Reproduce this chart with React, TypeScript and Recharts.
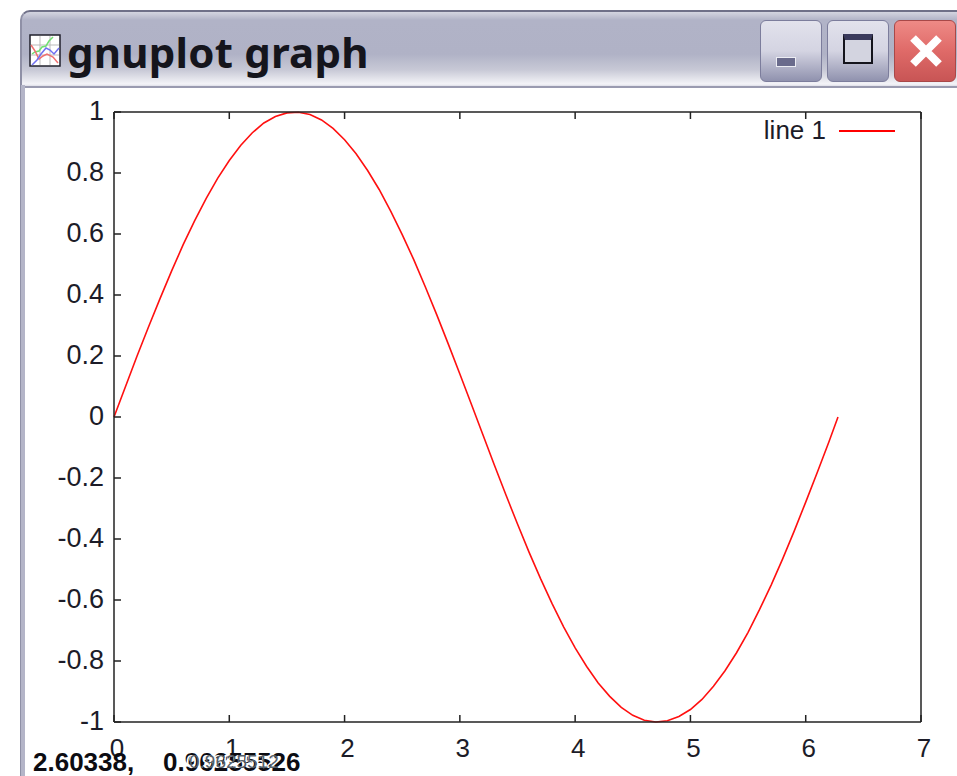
import React from 'react';
import { LineChart, Line, XAxis, YAxis, Legend } from 'recharts';

const xValues = [
  0, 0.1, 0.2, 0.3, 0.4, 0.5, 0.6, 0.7, 0.8, 0.9, 1, 1.1, 1.2, 1.3, 1.4, 1.5, 1.6, 1.7, 1.8, 1.9, 2, 2.1,
  2.2, 2.3, 2.4, 2.5, 2.6, 2.7, 2.8, 2.9, 3, 3.1, 3.2, 3.3, 3.4, 3.5, 3.6, 3.7, 3.8, 3.9, 4, 4.1, 4.2, 4.3,
  4.4, 4.5, 4.6, 4.7, 4.8, 4.9, 5, 5.1, 5.2, 5.3, 5.4, 5.5, 5.6, 5.7, 5.8, 5.9, 6, 6.1, 6.2, 6.28,
];
const yValues = [
  0, 0.1, 0.2, 0.296, 0.389, 0.479, 0.565, 0.644, 0.717, 0.783, 0.841, 0.891, 0.932, 0.964, 0.985, 0.997,
  0.999, 0.992, 0.974, 0.946, 0.909, 0.863, 0.808, 0.746, 0.675, 0.598, 0.516, 0.427, 0.335, 0.239, 0.141,
  0.042, -0.058, -0.158, -0.256, -0.351, -0.443, -0.53, -0.612, -0.688, -0.757, -0.818, -0.872, -0.916,
  -0.952, -0.978, -0.994, -1, -0.996, -0.982, -0.959, -0.926, -0.883, -0.832, -0.773, -0.706, -0.631,
  -0.551, -0.465, -0.374, -0.279, -0.182, -0.083, 0,
];
const xTicks = [0, 1, 2, 3, 4, 5, 6, 7];
const yTicks = [-1, -0.8, -0.6, -0.4, -0.2, 0, 0.2, 0.4, 0.6, 0.8, 1];
const seriesName = 'line 1';
const windowTitle = 'gnuplot graph';
const statusText = '2.60338,    0.96255526';
const statusGhosts = ['0.9652552', '0.9625512'];

const data = xValues.map((x, i) => ({ x, y: yValues[i] }));

const AXIS_FONT = '"Liberation Sans", Arial, sans-serif';
const TEXT_COLOR = '#1c1c28';

function BottomTick({ x, y, payload }: any) {
  return (
    <g>
      <line x1={x} x2={x} y1={y} y2={y - 7} stroke="#222" strokeWidth={1.5} />
      <text x={x + 3} y={y + 35} textAnchor="middle" fontSize={26} fontFamily={AXIS_FONT} fill={TEXT_COLOR}>
        {payload.value}
      </text>
    </g>
  );
}

function LeftTick({ x, y, payload }: any) {
  return (
    <g>
      <line x1={x} x2={x + 7} y1={y} y2={y} stroke="#222" strokeWidth={1.5} />
      <text x={x - 10} y={y + 8} textAnchor="end" fontSize={27} fontFamily={AXIS_FONT} fill={TEXT_COLOR}>
        {payload.value}
      </text>
    </g>
  );
}

function TopTick({ x, y }: any) {
  return <line x1={x} x2={x} y1={y} y2={y + 7} stroke="#222" strokeWidth={1.5} />;
}

function RightTick({ x, y }: any) {
  return <line x1={x} x2={x - 7} y1={y} y2={y} stroke="#222" strokeWidth={1.5} />;
}

function KeyContent() {
  return (
    <div style={{ position: 'relative', width: 140, height: 30, fontFamily: AXIS_FONT, fontSize: 26, color: TEXT_COLOR }}>
      <span style={{ position: 'absolute', right: 69, top: 0, lineHeight: '30px', whiteSpace: 'nowrap' }}>{seriesName}</span>
      <span style={{ position: 'absolute', left: 84, top: 15, width: 56, height: 2, background: '#ff0000' }} />
    </div>
  );
}

const buttonStyle: React.CSSProperties = {
  position: 'absolute', top: 20, height: 62, boxSizing: 'border-box', border: '1px solid #7c7d9c', borderRadius: 6,
};

function WindowChrome() {
  return (
    <>
      <div
        style={{
          position: 'absolute', left: 20, top: 10, width: 960, height: 76, boxSizing: 'border-box',
          borderTop: '2px solid #6f7088', borderLeft: '2px solid #8f90a6', borderTopLeftRadius: 10,
          background: 'linear-gradient(#d4d5e0 0px, #b1b3c7 8px, #b0b2c6 42px, #c8c9d6 58px, #f4f4f8 72px, #c9cad8 76px)',
        }}
      />
      <div style={{ position: 'absolute', left: 20, top: 85, width: 5, height: 700, background: '#b4b5c8', borderLeft: '1px solid #8f90a6', boxSizing: 'border-box' }} />
      <div style={{ position: 'absolute', left: 25, top: 86, width: 940, height: 2, background: '#9a9bb0' }} />
      <svg style={{ position: 'absolute', left: 29, top: 34 }} width={32} height={33}>
        <rect x={1} y={1} width={30} height={31} fill="#ffffff" stroke="#20202c" strokeWidth={1.5} />
        <path d="M11 2V31M21 2V31M2 11H30M2 21H30" stroke="#bbbbbb" strokeWidth={1} />
        <polyline points="3,20 6,18 10,17 13,13 17,12 20,7 24,3" fill="none" stroke="#70e070" strokeWidth={1.5} />
        <polyline points="2,11 6,17 10,25 14,22 18,20 24,23 29,29" fill="none" stroke="#f07070" strokeWidth={1.5} />
        <polyline points="3,31 8,26 12,20 17,14 21,16 25,20 30,14" fill="none" stroke="#7070f0" strokeWidth={1.5} />
      </svg>
      <div
        style={{
          position: 'absolute', left: 67, top: 24, fontFamily: '"Noto Sans", sans-serif', fontWeight: 700, fontSize: 42,
          lineHeight: '56px', letterSpacing: 0.2, color: '#15151c', whiteSpace: 'nowrap',
        }}
      >
        {windowTitle}
      </div>
      <div style={{ ...buttonStyle, left: 760, width: 62, background: 'linear-gradient(#e2e2ec, #d4d4e2 50%, #9092ae)' }}>
        <span style={{ position: 'absolute', left: 15, top: 36, width: 20, height: 10, background: '#6a6b8c', border: '1px solid #ecedf3', boxSizing: 'border-box' }} />
      </div>
      <div style={{ ...buttonStyle, left: 827, width: 62, background: 'linear-gradient(#e2e2ec, #d4d4e2 50%, #9092ae)' }}>
        <span style={{ position: 'absolute', left: 15, top: 13, width: 30, height: 30, boxSizing: 'border-box', border: '2px solid #14141c', borderTop: '6px solid #3a3a5c', background: '#d3d4e0' }} />
      </div>
      <div style={{ ...buttonStyle, left: 894, width: 62, border: '1px solid #a84848', background: 'linear-gradient(#ee8a86, #df6a68 50%, #c85555)' }}>
        <svg style={{ position: 'absolute', left: 13, top: 12 }} width={36} height={36}>
          <path d="M5 5L31 31M31 5L5 31" stroke="#ffffff" strokeWidth={8} />
        </svg>
      </div>
    </>
  );
}

export default function App() {
  return (
    <div style={{ position: 'absolute', left: 0, top: 0, width: 957, height: 776, overflow: 'hidden', background: '#ffffff' }}>
      <WindowChrome />
      <div style={{ position: 'absolute', left: 0, top: 0 }}>
        {/* legend box takes 30px out of the plot height, so the bottom margin is small */}
        <LineChart width={957} height={776} data={data} margin={{ top: 111, right: 35, bottom: 23, left: 54 }}>
          <XAxis
            xAxisId="bottom" dataKey="x" type="number" domain={[0, 7]} ticks={xTicks} interval={0} height={1}
            tickSize={0} tickMargin={0} tick={<BottomTick />} tickLine={false} axisLine={{ stroke: '#222', strokeWidth: 1.5 }}
          />
          <XAxis
            xAxisId="top" orientation="top" dataKey="x" type="number" domain={[0, 7]} ticks={xTicks} interval={0} height={1}
            tickSize={0} tickMargin={0} tick={<TopTick />} tickLine={false} axisLine={{ stroke: '#222', strokeWidth: 1.5 }}
          />
          <YAxis
            yAxisId="left" type="number" domain={[-1, 1]} ticks={yTicks} interval={0} width={60}
            tickSize={0} tickMargin={0} tick={<LeftTick />} tickLine={false} axisLine={{ stroke: '#222', strokeWidth: 1.5 }}
          />
          <YAxis
            yAxisId="right" orientation="right" type="number" domain={[-1, 1]} ticks={yTicks} interval={0} width={1}
            tickSize={0} tickMargin={0} tick={<RightTick />} tickLine={false} axisLine={{ stroke: '#222', strokeWidth: 1.5 }}
          />
          <Legend content={<KeyContent />} wrapperStyle={{ left: 755, top: 115, width: 140, height: 30 }} />
          <Line
            xAxisId="bottom" yAxisId="left" name={seriesName} dataKey="y" type="linear" stroke="#ff1010" strokeWidth={1.6}
            dot={false} isAnimationActive={false}
          />
        </LineChart>
      </div>
      <div style={{ position: 'absolute', left: 33, top: 746, fontFamily: AXIS_FONT, fontWeight: 700, fontSize: 26, lineHeight: '32px', color: '#0c0c12', whiteSpace: 'pre' }}>
        {statusText}
      </div>
      {statusGhosts.map((text, i) => (
        <div
          key={text}
          style={{
            position: 'absolute', left: 186 + i * 3, top: 750, fontFamily: AXIS_FONT, fontSize: 19, lineHeight: '24px',
            color: i === 0 ? '#ffffff' : '#55606a', whiteSpace: 'pre',
          }}
        >
          {text}
        </div>
      ))}
    </div>
  );
}
